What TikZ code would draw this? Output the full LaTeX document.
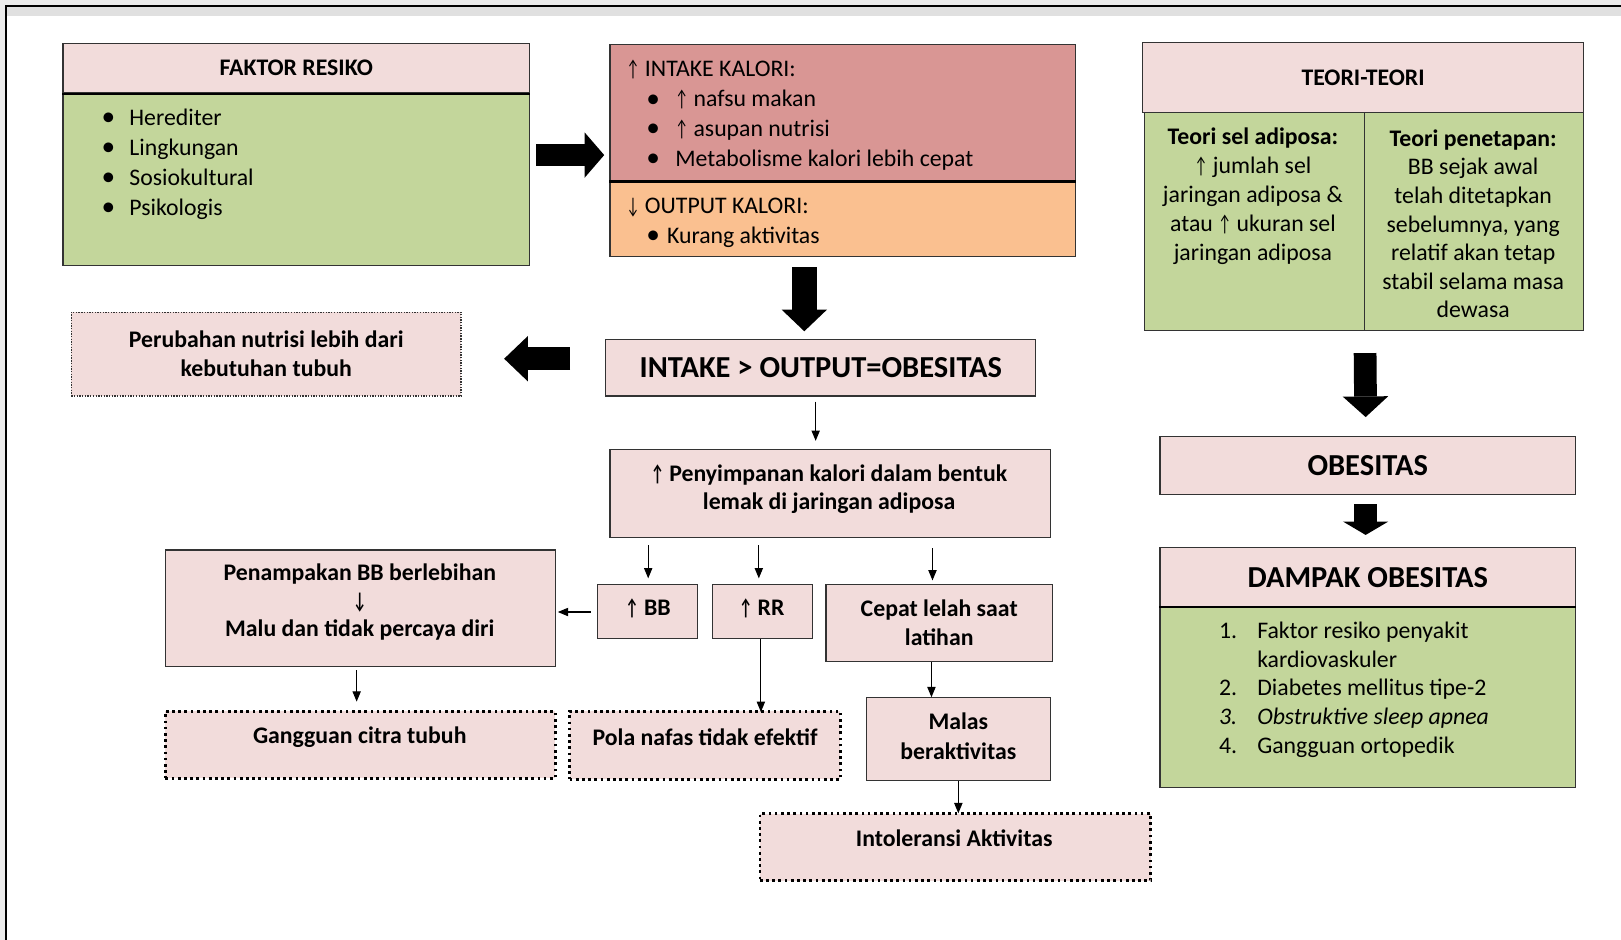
\documentclass[tikz,border=0pt]{standalone}
\usepackage{fontspec}
\usepackage{graphicx}
\setmainfont{Carlito}
\usetikzlibrary{arrows.meta, calc}

\definecolor{pinkfill}{HTML}{F2DCDB}
\definecolor{greenfill}{HTML}{C3D69B}
\definecolor{redfill}{HTML}{D99694}
\definecolor{orangefill}{HTML}{FAC090}

\newcommand{\bodyfont}{\fontsize{23}{28.5}\selectfont}
\newcommand{\headfont}{\fontsize{29.5}{36}\selectfont\bfseries}
\newcommand{\bul}{\raisebox{-0.4pt}{\scalebox{1.15}{\textbullet}}}
\newcommand{\up}{\scalebox{0.6}[0.95]{↑}}
\newcommand{\dn}{\scalebox{0.6}[0.95]{↓}}

\tikzset{
  txt/.style={inner sep=0pt, align=center, font=\bodyfont},
  bold/.style={txt, font=\bodyfont\bfseries},
  box/.style={draw=black!80, line width=1.1pt, fill=pinkfill, inner sep=0pt, align=center, font=\bodyfont\bfseries},
  finedot/.style={line width=1.3pt, dash pattern=on 1.3pt off 1.3pt},
  bigdot/.style={line width=2.6pt, dash pattern=on 2.6pt off 3.4pt, draw=black},
  divider/.style={line width=2pt, black},
  arr/.style={line width=1pt, -{Triangle[length=10pt, width=8pt]}},
  bigarr/.style={line width=22pt, -{Triangle[length=#1, width=44pt, line width=0pt]}},
  bigarr/.default=20pt
}

\begin{document}
\begin{tikzpicture}[x=1pt, y=-1pt]
\useasboundingbox (0,0) rectangle (1568,909);
% page edge
\fill[black!8] (0,0) rectangle (1568,909);
\fill[white] (6,6) rectangle (1568,909);
\fill[black!12] (6,6) rectangle (1568,15);
\draw[line width=1.6pt] (6,909) -- (6,6) -- (1568,6);

% faktor resiko
\node[box, minimum width=451pt, minimum height=48pt] (fhead) at (286.5,66) {FAKTOR RESIKO};
\node[box, fill=greenfill, minimum width=451pt, minimum height=167pt] (fbody) at (286.5,173.5) {};
\draw[divider] (fhead.south west) -- (fhead.south east);
\node[txt, align=left, anchor=west, font=\fontsize{23}{29}\selectfont] (flist) at (98,158.5) {\makebox[27pt][l]{\bul}Herediter\\
  \makebox[27pt][l]{\bul}Lingkungan\\
  \makebox[27pt][l]{\bul}Sosiokultural\\
  \makebox[27pt][l]{\bul}Psikologis};

% intake / output kalori
\node[box, fill=redfill, minimum width=450pt, minimum height=132pt] (intk) at (815,109) {};
\node[box, fill=orangefill, minimum width=450pt, minimum height=73pt] (outk) at (815,211.5) {};
\draw[divider] (intk.south west) -- (intk.south east);
\node[txt, align=left, anchor=west, font=\fontsize{23}{29}\selectfont] (intk-t) at (606,111.5) {\up{} INTAKE KALORI:\\
  \hspace*{19pt}\makebox[28pt][l]{\bul}\up{} nafsu makan\\
  \hspace*{19pt}\makebox[28pt][l]{\bul}\up{} asupan nutrisi\\
  \hspace*{19pt}\makebox[28pt][l]{\bul}Metabolisme kalori lebih cepat};
\node[txt, align=left, anchor=west, font=\fontsize{23}{29}\selectfont] (outk-t) at (606,215.5) {\dn{} OUTPUT KALORI:\\
  \hspace*{19pt}\makebox[20pt][l]{\bul}Kurang aktivitas};

% teori-teori
\node[box, minimum width=427pt, minimum height=68pt] (thead) at (1318.5,75) {TEORI-TEORI};
\node[box, fill=greenfill, minimum width=213pt, minimum height=211pt] (tleft) at (1213.5,214.5) {};
\node[box, fill=greenfill, minimum width=212pt, minimum height=211pt] (tright) at (1426,214.5) {};
\node[txt, font=\fontsize{23}{28}\selectfont] (tleft-t) at (1212,190) {\textbf{Teori sel adiposa:}\\\up{} jumlah sel\\jaringan adiposa \&\\atau \up{} ukuran sel\\jaringan adiposa};
\node[txt, font=\fontsize{23}{27.7}\selectfont] (tright-t) at (1425,216.5) {\textbf{Teori penetapan:}\\BB sejak awal\\telah ditetapkan\\sebelumnya, yang\\relatif akan tetap\\stabil selama masa\\dewasa};

% alur tengah
\node[box, minimum width=416pt, minimum height=55pt, font=\headfont] (io) at (794,355.5) {INTAKE > OUTPUT=OBESITAS};
\node[box, finedot, minimum width=377pt, minimum height=81pt, font=\fontsize{23}{28}\selectfont\bfseries] (perub) at (257.5,342.5) {Perubahan nutrisi lebih dari\\kebutuhan tubuh};
\node[box, minimum width=426pt, minimum height=85pt] (pen) at (803,477.5) {};
\node[bold, font=\fontsize{23}{27}\selectfont\bfseries] (pen-t) at (802,473) {\up{} Penyimpanan kalori dalam bentuk\\lemak di jaringan adiposa};
\node[box, minimum width=97pt, minimum height=53pt] (bb) at (626.5,591.5) {};
\node[bold] (bb-t) at (627,588) {\up{} BB};
\node[box, minimum width=97pt, minimum height=53pt] (rr) at (737.5,591.5) {};
\node[bold] (rr-t) at (737,588) {\up{} RR};
\node[box, minimum width=219pt, minimum height=75pt] (cepat) at (908.5,602.5) {Cepat lelah saat\\latihan};
\node[box, minimum width=377pt, minimum height=113pt] (tampak) at (348.5,588.5) {};
\node[bold, font=\fontsize{23}{27}\selectfont\bfseries] (tampak-t) at (348,582.5) {Penampakan BB berlebihan\\\dn\\Malu dan tidak percaya diri};
\node[box, bigdot, minimum width=377pt, minimum height=65pt] (citra) at (348.5,720.5) {};
\node[bold] (citra-t) at (348,713.5) {Gangguan citra tubuh};
\node[box, bigdot, minimum width=262pt, minimum height=66pt] (pola) at (682,721) {};
\node[bold] (pola-t) at (682,713) {Pola nafas tidak efektif};
\node[box, minimum width=178pt, minimum height=80pt] (malas) at (927,715) {};
\node[bold] (malas-t) at (927,712) {Malas\\beraktivitas};
\node[box, bigdot, minimum width=378pt, minimum height=65pt] (intol) at (924,819.5) {};
\node[bold] (intol-t) at (923,811) {Intoleransi Aktivitas};

% obesitas dan dampak
\node[box, minimum width=402pt, minimum height=56pt, font=\headfont] (obes) at (1323,450) {OBESITAS};
\node[box, minimum width=402pt, minimum height=57pt, font=\headfont] (dhead) at (1323,558.5) {DAMPAK OBESITAS};
\node[box, fill=greenfill, minimum width=402pt, minimum height=175pt] (dbody) at (1323,674.5) {};
\draw[divider] (dhead.south west) -- (dhead.south east);
\node[txt, align=left, anchor=west, font=\fontsize{23}{27.75}\selectfont] (dbody-t) at (1179,667) {\makebox[37pt][l]{1.}Faktor resiko penyakit\\
  \hspace*{37pt}kardiovaskuler\\
  \makebox[37pt][l]{2.}Diabetes mellitus tipe-2\\
  \textit{\makebox[37pt][l]{3.}Obstruktive sleep apnea}\\
  \makebox[37pt][l]{4.}Gangguan ortopedik};

% panah besar
\draw[bigarr=19pt] ($(fbody.east |- 0,150)+(6,0)$) -- ($(intk.west |- 0,150)+(-5,0)$);
\draw[bigarr=21pt, line width=24pt] ($(outk.south)+(-37,10)$) -- ($(io.north)+(-16,-7)$);
\draw[bigarr=23pt] ($(io.west)+(-34,-8.5)$) -- ($(perub.east)+(41,4.5)$);
\draw[bigarr=20pt] ($(tright.south west)+(1,21)$) -- ($(obes.north)+(-2,-18)$);
\draw[bigarr=13pt] ($(obes.south)+(-2,9)$) -- ($(dhead.north)+(-2,-12)$);

% panah kecil
\draw[arr] ($(io.south)+(-5,5)$) -- ($(pen.north)+(-14,-8)$);
\draw[arr] ($(pen.south -| bb.north)+(0.5,7)$) -- ($(bb.north)+(0.5,-5)$);
\draw[arr] ($(pen.south -| rr.north)+(-3.5,7)$) -- ($(rr.north)+(-3.5,-5)$);
\draw[arr] ($(pen.south -| cepat.north)+(-6.5,10)$) -- ($(cepat.north)+(-6.5,-3)$);
\draw[arr] ($(bb.west)+(-6,0.5)$) -- ($(tampak.east |- bb.west)+(2,0.5)$);
\draw[arr] ($(tampak.south)+(-3.5,3)$) -- ($(citra.north)+(-3.5,-8)$);
\draw[arr] ($(rr.south)+(-1.5,0)$) -- ($(pola.north -| rr.south)+(-1.5,2)$);
\draw[arr] ($(cepat.south)+(-7.5,0)$) -- ($(malas.north -| cepat.south)+(-7.5,0)$);
\draw[arr] (malas.south) -- ($(intol.north -| malas.south)+(0,1)$);
\end{tikzpicture}
\end{document}
